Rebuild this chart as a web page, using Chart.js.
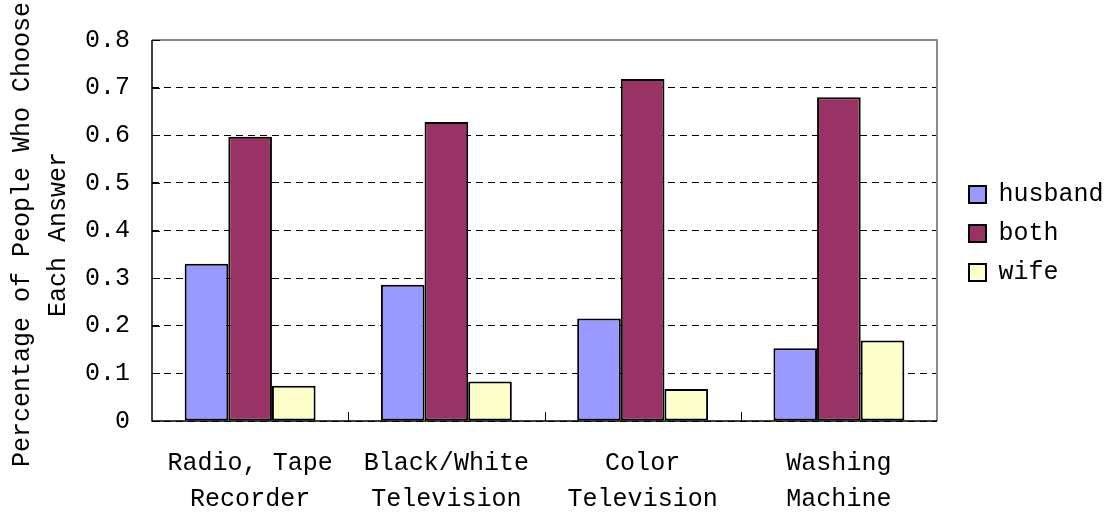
<!DOCTYPE html>
<html>
<head>
<meta charset="utf-8">
<script src="https://cdn.jsdelivr.net/npm/chart.js@4/dist/chart.umd.min.js"></script>
<style>
  html, body { margin: 0; padding: 0; background: #ffffff; }
  #wrap { width: 1108px; height: 518px; position: relative; }
</style>
</head>
<body>
<div id="wrap"><canvas id="c"></canvas></div>
<script>
// Who decides on buying each household appliance
const categories = [["Radio, Tape", "Recorder"], ["Black/White", "Television"], ["Color", "Television"], ["Washing", "Machine"]];
const husband = [0.330, 0.286, 0.215, 0.153];
const both = [0.597, 0.628, 0.718, 0.680];
const wife = [0.074, 0.083, 0.067, 0.169];
const yTicks = [0, 0.1, 0.2, 0.3, 0.4, 0.5, 0.6, 0.7, 0.8];
const yTitle = ["Percentage of People Who Choose", "Each Answer"];

const FONT = "'Liberation Mono', 'DejaVu Sans Mono', monospace";

// Grey frame on top/right, black axes on left/bottom, short inner tick marks,
// and the two-line vertical axis title.
const frame = {
  id: 'frame',
  afterDatasetsDraw(chart) {
    const { ctx, chartArea: a, scales } = chart;
    ctx.save();
    ctx.lineCap = 'butt';
    ctx.strokeStyle = '#8c8c8c';
    ctx.lineWidth = 2;
    ctx.beginPath();
    ctx.moveTo(a.left, a.top);
    ctx.lineTo(a.right, a.top);
    ctx.lineTo(a.right, a.bottom);
    ctx.stroke();

    ctx.strokeStyle = '#000000';
    ctx.lineWidth = 1.5;
    ctx.beginPath();
    ctx.moveTo(a.left, a.top);
    ctx.lineTo(a.left, a.bottom);
    ctx.lineTo(a.right, a.bottom);
    ctx.stroke();

    // y ticks pointing into the plot
    ctx.lineWidth = 1;
    const y = scales.y;
    yTicks.forEach(v => {
      const py = Math.round(y.getPixelForValue(v)) + 0.5;
      ctx.beginPath();
      ctx.moveTo(a.left, py);
      ctx.lineTo(a.left + 8, py);
      ctx.stroke();
    });
    // x ticks at category boundaries
    const step = (a.right - a.left) / categories.length;
    for (let i = 1; i < categories.length; i++) {
      const px = Math.round(a.left + step * i) + 0.5;
      ctx.beginPath();
      ctx.moveTo(px, a.bottom);
      ctx.lineTo(px, a.bottom - 9);
      ctx.stroke();
    }

    // vertical axis title
    ctx.fillStyle = '#000000';
    ctx.font = "25px " + FONT;
    ctx.textAlign = 'center';
    ctx.textBaseline = 'middle';
    const cy = (a.top + a.bottom) / 2 + 4;
    ctx.translate(22, cy);
    ctx.rotate(-Math.PI / 2);
    ctx.fillText(yTitle[0], 0, 0);
    ctx.fillText(yTitle[1], 0, 36);
    ctx.restore();
  }
};

const barStyle = { borderColor: '#000000', borderWidth: 2, borderSkipped: false };

new Chart(document.getElementById('c'), {
  type: 'bar',
  data: {
    labels: categories,
    datasets: [
      { label: 'husband', data: husband, backgroundColor: '#9999ff', ...barStyle },
      { label: 'both', data: both, backgroundColor: '#993366', ...barStyle },
      { label: 'wife', data: wife, backgroundColor: '#ffffcc', ...barStyle }
    ]
  },
  options: {
    responsive: true,
    maintainAspectRatio: false,
    animation: false,
    layout: { padding: { left: 0, right: 4, top: 40, bottom: 0 } },
    datasets: { bar: { categoryPercentage: 0.667, barPercentage: 1.0 } },
    plugins: {
      legend: {
        position: 'right',
        fullSize: false,
        maxWidth: 149,
        title: { display: true, text: '', font: { size: 5 }, padding: 0 },
        labels: {
          font: { family: FONT, size: 25 },
          color: '#000000',
          boxWidth: 17,
          boxHeight: 17,
          padding: 14
        }
      },
      tooltip: { enabled: false }
    },
    scales: {
      x: {
        grid: { display: false, drawTicks: false },
        border: { display: false },
        ticks: {
          font: { family: FONT, size: 25, lineHeight: 1.44 },
          color: '#000000',
          padding: 24,
          maxRotation: 0,
          autoSkip: false
        },
        afterFit(s) { s.height = 97; }
      },
      y: {
        min: 0,
        max: 0.8,
        afterBuildTicks(s) { s.ticks = yTicks.map(v => ({ value: v })); },
        grid: {
          color: '#000000',
          lineWidth: 1,
          drawTicks: false
        },
        border: { display: false, dash: [7, 5] },
        ticks: {
          font: { family: FONT, size: 25 },
          color: '#000000',
          padding: 22,
          callback: v => (v === 0 ? '0' : v.toFixed(1))
        },
        afterFit(s) { s.width = 152; }
      },
      y2: {
        position: 'right',
        display: true,
        grid: { display: false, drawTicks: false },
        border: { display: false },
        ticks: { display: false },
        afterFit(s) { s.width = 18; }
      }
    }
  },
  plugins: [frame]
});
</script>
</body>
</html>
